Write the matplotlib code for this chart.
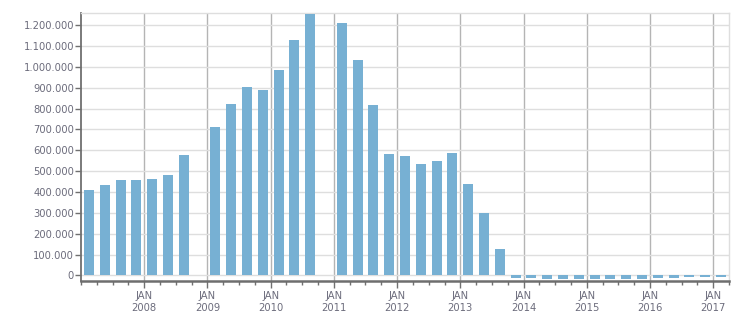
import matplotlib
matplotlib.use("Agg")
import matplotlib.pyplot as plt
from matplotlib.ticker import FuncFormatter, MultipleLocator, FixedLocator
import numpy as np

# Quarterly data, Q1 2007 .. Q1 2017 (None = no value)
quarters = [f"{y}Q{q}" for y in range(2007, 2018) for q in range(1, 5)][:41]
values = [
    409000, 433000, 457000, 457000,          # 2007
    462000, 483000, 577000, None,            # 2008
    712000, 822000, 904000, 889000,          # 2009
    985000, 1130000, 1254000, None,          # 2010
    1211000, 1033000, 817000, 582000,        # 2011
    573000, 534000, 549000, 587000,          # 2012
    438000, 299000, 126000, -14000,          # 2013
    -14000, -17000, -17000, -17000,          # 2014
    -17000, -17000, -17000, -17000,          # 2015
    -15000, -11000, -7000, -7000,            # 2016
    -7000,                                   # 2017
]
year_ticks = list(range(2008, 2018))
year_labels = [f"JAN\n{y}" for y in year_ticks]

bar_color = "#77b0d3"
text_color = "#6c6c7c"

def q_center(label):
    y, q = label.split("Q")
    return int(y) + (int(q) - 0.5) / 4.0

xs = [q_center(q) for q, v in zip(quarters, values) if v is not None]
vs = [v for v in values if v is not None]

fig = plt.figure(figsize=(7.51, 3.13), dpi=100)
ax = fig.add_axes([81 / 751, 1 - 281 / 313, (729 - 81) / 751, (281 - 13) / 313])

ax.bar(xs, vs, width=0.158, color=bar_color, zorder=3, linewidth=0)

ax.set_xlim(2007, 2017.25)
ax.set_ylim(-27000, 1258000)

ax.yaxis.set_major_locator(MultipleLocator(100000))
ax.yaxis.set_major_formatter(FuncFormatter(lambda v, p: f"{int(round(v)):,}".replace(",", ".")))
ax.xaxis.set_major_locator(FixedLocator(year_ticks))
ax.set_xticklabels(year_labels)
ax.xaxis.set_minor_locator(MultipleLocator(0.25))

ax.grid(axis="y", color="#dedede", linewidth=1, zorder=0)
ax.grid(axis="x", which="major", color="#b4b4b4", linewidth=1, zorder=0)

for s in ("top", "right"):
    ax.spines[s].set_color("#dedede")
    ax.spines[s].set_linewidth(1)
ax.spines["left"].set_color("#707070")
ax.spines["left"].set_linewidth(1.3)
ax.spines["bottom"].set_color("#6e6e6e")
ax.spines["bottom"].set_linewidth(1.8)

ax.tick_params(axis="y", which="major", length=4, width=1, color="#707070",
               labelsize=7.2, labelcolor=text_color, pad=1)
ax.tick_params(axis="x", which="major", length=5, width=1, color="#707070",
               labelsize=7.2, labelcolor=text_color, pad=2)
ax.tick_params(axis="x", which="minor", length=3, width=1, color="#707070")
for lbl in ax.get_xticklabels():
    lbl.set_linespacing(1.25)

fig.savefig("out.png", dpi=100)
